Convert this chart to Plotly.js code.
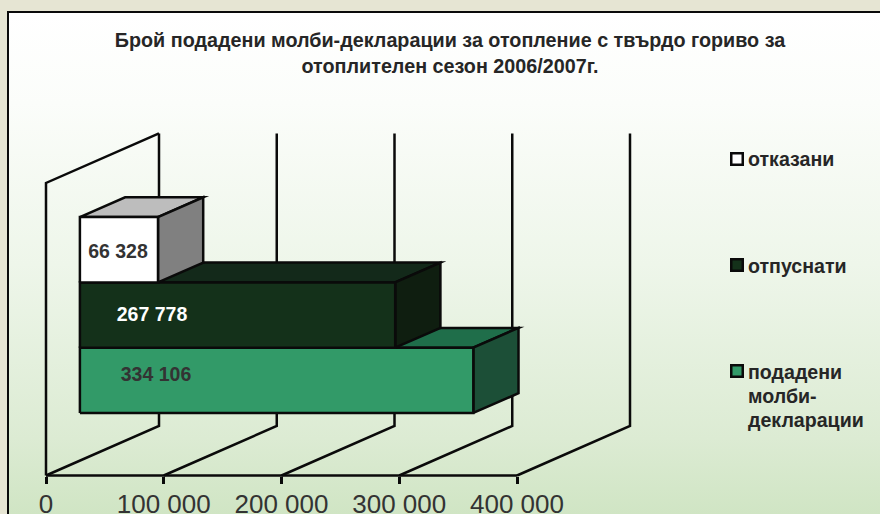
<!DOCTYPE html>
<html>
<head>
<meta charset="utf-8">
<script src="https://cdn.plot.ly/plotly-3.0.1.min.js"></script>
<style>
html,body{margin:0;padding:0;width:880px;height:514px;overflow:hidden;background:#e6e5d3;}
#panel{position:absolute;left:7px;top:11px;width:873px;height:503px;box-sizing:border-box;border-left:2px solid #0a0a0a;border-top:2px solid #0a0a0a;
background:linear-gradient(to bottom,#ffffff 0%,#fbfdfa 18%,#eef6ea 50%,#dcebd3 85%,#d0e5c4 100%);}
#chart{position:absolute;left:0;top:0;width:880px;height:514px;}
.js-line{stroke-linejoin:miter !important;stroke-miterlimit:8 !important;}
</style>
</head>
<body>
<div id="panel"></div>
<div id="chart"></div>
<script>
// Data (bottom to top of the stack)
const seriesNames = [['подадени', 'молби-', 'декларации'], ['отпуснати'], ['отказани']];
const seriesValues = [334106, 267778, 66328];
const seriesLabels = ['334 106', '267 778', '66 328'];
const tickValues = [0, 100000, 200000, 300000, 400000];
const tickLabels = ['0', '100 000', '200 000', '300 000', '400 000'];

// Colours per series: front, top, side
const frontColors = ['#329a68', '#14311a', '#ffffff'];
const topColors = ['#1f6e4a', '#13291a', '#bdbdbd'];
const sideColors = ['#1c4f37', '#0f1e10', '#808080'];
const labelColors = ['#333333', '#ffffff', '#333333'];

// Oblique projection of the pseudo-3D box
const W = 880, H = 514;
const PX_PER_UNIT = 0.0011775, ORIGIN_X = 46;
const PX_PER_LEVEL = 65.3, ORIGIN_Y = 475.5;
const DEPTH_X = 113, DEPTH_Y = 49.5;
const BAR_D0 = 0.3, BAR_D1 = 0.7, BAR_BASE = 0.73, WALL = 4.48;
const LINE_W = 2.5, INK = '#0a0a0a', FONT = 'Liberation Sans, Arial, sans-serif';
const xRange = [(0 - ORIGIN_X) / PX_PER_UNIT, (W - ORIGIN_X) / PX_PER_UNIT];
const yRange = [(ORIGIN_Y - H) / PX_PER_LEVEL, ORIGIN_Y / PX_PER_LEVEL];
const px = (v, d) => v + d * DEPTH_X / PX_PER_UNIT;
const py = (l, d) => l + d * DEPTH_Y / PX_PER_LEVEL;
const fromPxX = p => (p - ORIGIN_X) / PX_PER_UNIT;
const fromPxY = p => (ORIGIN_Y - p) / PX_PER_LEVEL;

const traces = [];
// Walls and gridlines
const gx = [], gy = [];
tickValues.forEach((t, i) => {
  gx.push(t, px(t, 1), px(t, 1), null);
  gy.push(0, py(0, 1), py(WALL, 1), null);
});
gx.push(0, 0, px(0, 1), null, 0, tickValues[tickValues.length - 1]);
gy.push(0, WALL, py(WALL, 1), null, 0, 0);
traces.push({x: gx, y: gy, mode: 'lines', line: {color: INK, width: LINE_W}, hoverinfo: 'skip'});

function face(pts, color) {
  traces.push({
    x: pts.map(p => px(p[0], p[2])).concat(px(pts[0][0], pts[0][2])),
    y: pts.map(p => py(p[1], p[2])).concat(py(pts[0][1], pts[0][2])),
    mode: 'lines', fill: 'toself', fillcolor: color,
    line: {color: INK, width: LINE_W}, hoverinfo: 'skip'
  });
}
seriesValues.forEach((v, i) => {
  const a = BAR_BASE + i, b = a + 1;
  face([[0, b, BAR_D0], [0, b, BAR_D1], [v, b, BAR_D1], [v, b, BAR_D0]], topColors[i]);
  face([[v, a, BAR_D0], [v, a, BAR_D1], [v, b, BAR_D1], [v, b, BAR_D0]], sideColors[i]);
  face([[0, a, BAR_D0], [v, a, BAR_D0], [v, b, BAR_D0], [0, b, BAR_D0]], frontColors[i]);
});

// Data labels
const labelPxX = [156, 152, 118], labelPxY = [376, 316, 253];
traces.push({
  x: labelPxX.map(fromPxX), y: labelPxY.map(fromPxY), text: seriesLabels,
  mode: 'text', textposition: 'middle center', hoverinfo: 'skip',
  textfont: {family: FONT, size: 19.5, weight: 700, color: labelColors}
});

// Legend swatches and text
const swatchPxY = [371, 265, 159], legendTextPxY = [372, 266, 159], LEGEND_LEAD = 24;
traces.push({
  x: swatchPxY.map(() => fromPxX(737)), y: swatchPxY.map(fromPxY), mode: 'markers', hoverinfo: 'skip',
  marker: {symbol: 'square', size: 11.5, color: frontColors, line: {color: INK, width: 2.5}}
});
const annotations = [];
seriesNames.forEach((lines, i) => lines.forEach((n, k) => annotations.push({
  xref: 'paper', yref: 'paper', x: 746 / W, y: 1 - (legendTextPxY[i] + k * LEGEND_LEAD) / H,
  xanchor: 'left', yanchor: 'middle', align: 'left', showarrow: false, text: n,
  font: {family: FONT, size: 19.6, weight: 700, color: '#262626'}
})));

const layout = {
  width: W, height: H,
  margin: {l: 0, r: 0, t: 0, b: 0},
  paper_bgcolor: 'rgba(0,0,0,0)', plot_bgcolor: 'rgba(0,0,0,0)',
  showlegend: false, hovermode: false,
  title: {
    text: 'Брой подадени молби-декларации за отопление с твърдо гориво за<br>отоплителен сезон 2006/2007г.',
    x: 450 / W, xanchor: 'center', y: 1 - 47 / H, yanchor: 'middle',
    font: {family: FONT, size: 19.75, weight: 700, color: '#262626'}
  },
  xaxis: {
    range: xRange, domain: [0, 1], anchor: 'free', position: (H - ORIGIN_Y) / H,
    showgrid: false, zeroline: false, showline: false,
    tickmode: 'array', tickvals: tickValues, ticktext: tickLabels,
    ticks: 'outside', ticklen: 7, tickwidth: LINE_W, tickcolor: INK,
    ticklabelstandoff: -2,
    tickfont: {family: FONT, size: 26, color: '#333333'}
  },
  yaxis: {range: yRange, domain: [0, 1], visible: false, fixedrange: true},
  annotations: annotations
};
traces.forEach(t => t.showlegend = false);
Plotly.newPlot('chart', traces, layout, {displayModeBar: false, responsive: false});
</script>
</body>
</html>
